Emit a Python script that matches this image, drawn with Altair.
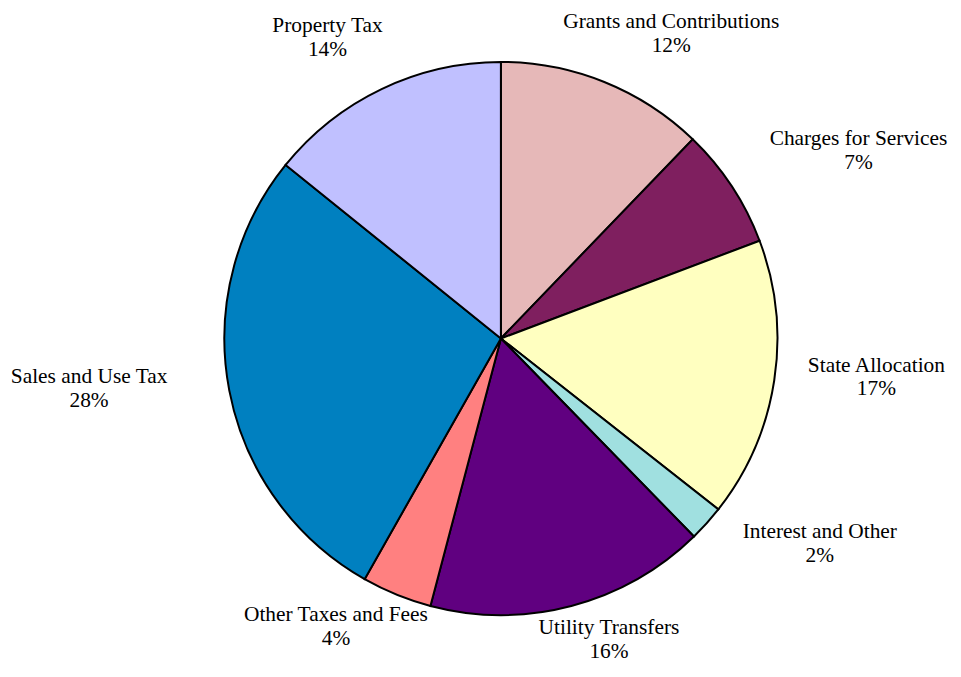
import altair as alt
import pandas as pd

categories = ["Grants and Contributions", "Charges for Services", "State Allocation",
              "Interest and Other", "Utility Transfers", "Other Taxes and Fees",
              "Sales and Use Tax", "Property Tax"]
shares = [12.2, 7.05, 16.35, 2.1, 16.4, 4.1, 27.6, 14.2]
pct_labels = ["12%", "7%", "17%", "2%", "16%", "4%", "28%", "14%"]
colors = ["#E6B8B8", "#7F1F5F", "#FFFFC0", "#A0E0E0", "#600080", "#FF8080", "#0080C0", "#C0C0FF"]

df = pd.DataFrame({
    "idx": list(range(len(categories))),
    "category": categories,
    "share": shares,
    "pct": pct_labels,
})

W, H = 950, 662
CX, CY = 495.5, 330.5
R = 278
RX, RY = 350, 300
LCY = CY - 10
CHARW = 9.0
EDGE = 5
HALF_H = 24
LH = 24

base = alt.Chart(df)

pie = base.mark_arc(stroke="black", strokeWidth=2, radius=R).encode(
    theta=alt.Theta("share:Q", stack=True),
    order=alt.Order("idx:Q"),
    color=alt.Color("category:N", scale=alt.Scale(domain=categories, range=colors), legend=None),
    x=alt.value(CX),
    y=alt.value(CY),
)

labels = base.transform_joinaggregate(
    total="sum(share)"
).transform_window(
    cum="sum(share)", sort=[alt.SortField("idx")], frame=[None, 0]
).transform_calculate(
    mid="(datum.cum - datum.share/2) / datum.total * 2 * PI",
    w=f"length(datum.category) * {CHARW}",
    txt="datum.category + '\\n' + datum.pct",
).transform_calculate(
    lx_raw=f"{CX} + {RX}*sin(datum.mid) + sin(datum.mid)*datum.w/2",
    ly_raw=f"{LCY} - {RY}*cos(datum.mid) - cos(datum.mid)*{HALF_H}",
).transform_calculate(
    lx=f"clamp(datum.lx_raw, datum.w/2 + {EDGE}, {W} - datum.w/2 - {EDGE})",
    ly=f"clamp(datum.ly_raw, {HALF_H}, {H} - {HALF_H}) - {LH}/2",
).mark_text(
    font="Liberation Serif", fontSize=21.5, lineBreak="\n", lineHeight=LH,
    align="center", baseline="middle", color="black",
).encode(
    x=alt.X("lx:Q", scale=None, axis=None),
    y=alt.Y("ly:Q", scale=None, axis=None),
    text="txt:N",
)

chart = alt.layer(pie, labels).properties(
    width=W, height=H, padding=0, background="white",
    autosize=alt.AutoSizeParams(type="none"),
).configure_view(strokeWidth=0, stroke=None)

chart.save("out.html", embed_options={"renderer": "svg", "actions": False})
